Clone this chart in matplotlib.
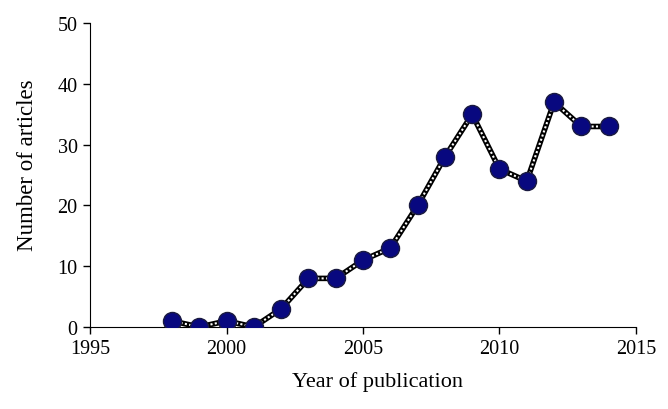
import matplotlib
matplotlib.use("Agg")
import matplotlib.pyplot as plt

plt.rcParams['font.family'] = ['Liberation Serif', 'DejaVu Serif']

years = [1998, 1999, 2000, 2001, 2002, 2003, 2004, 2005, 2006, 2007,
         2008, 2009, 2010, 2011, 2012, 2013, 2014]
articles = [1, 0, 1, 0, 3, 8, 8, 11, 13, 20, 28, 35, 26, 24, 37, 33, 33]

fig = plt.figure(figsize=(6.68, 4.10), dpi=100)
ax = fig.add_axes([0.135, 0.2, 0.817, 0.741])

# checkered line: black base with white dots on top
ax.plot(years, articles, color='black', lw=4.0, zorder=2)
ax.plot(years, articles, color='white', lw=1.5, ls=(0, (1, 1.1)), zorder=3)
ax.plot(years, articles, ls='none', marker='o', ms=13, mfc='#08087f',
        mec='#1a1a40', mew=1.0, zorder=4)

ax.set_xlim(1995, 2015)
ax.set_ylim(0, 50)
ax.set_xticks([1995, 2000, 2005, 2010, 2015])
ax.set_yticks([0, 10, 20, 30, 40, 50])
ax.spines['top'].set_visible(False)
ax.spines['right'].set_visible(False)
ax.tick_params(labelsize=14.5, length=5, width=1, direction='out', pad=4)
ax.set_xlabel('Year of publication', fontsize=16)
ax.set_ylabel('Number of articles', fontsize=16.5)
ax.xaxis.set_label_coords(0.527, -0.145)
ax.yaxis.set_label_coords(-0.095, 0.535)

fig.savefig('out.png', dpi=100)
